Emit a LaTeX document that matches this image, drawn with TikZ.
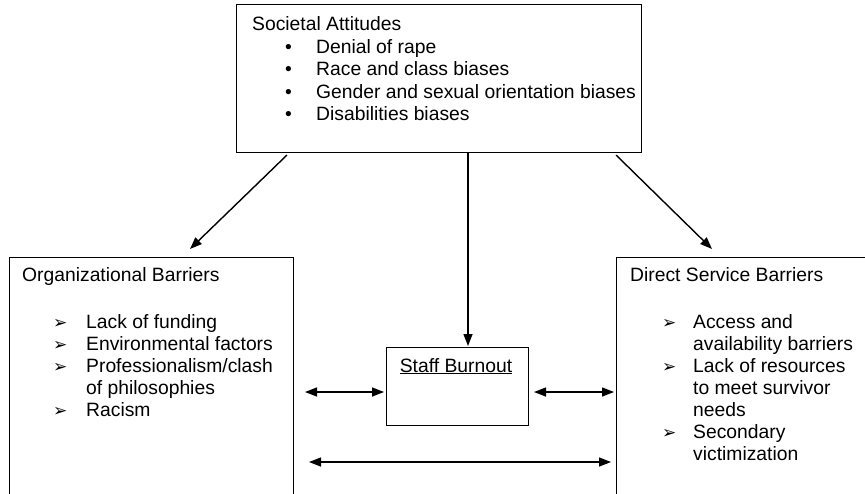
\documentclass[tikz,border=0pt]{standalone}
\usepackage{fontspec}
\setmainfont{Liberation Sans}
\newfontfamily\dejavu{DejaVu Sans}
\usetikzlibrary{arrows.meta}
\newcommand{\arrbul}{{\dejavu\fontsize{17}{17}\selectfont ➢}}
\begin{document}
\begin{tikzpicture}[x=1pt,y=-1pt,
  box/.style={draw, line width=1.4pt, rectangle, anchor=north west, inner sep=0},
  txt/.style={anchor=base west, inner sep=0, font=\fontsize{19.3}{22}\selectfont},
  conn/.style={line width=1.4pt, -{Triangle[length=12pt,width=9pt]}},
  dconn/.style={line width=1.4pt, {Triangle[length=12pt,width=9pt]}-{Triangle[length=12pt,width=9pt]}}]
\clip (0,0) rectangle (865,493);
\fill[white] (0,0) rectangle (865,493);
% boxes
\node[box, minimum width=405pt, minimum height=148pt] (soc) at (236,4) {};
\node[box, minimum width=284pt, minimum height=270pt] (org) at (9,257) {};
\node[box, minimum width=270pt, minimum height=270pt] (dsb) at (616,257) {};
\node[box, minimum width=142pt, minimum height=78pt] (staff) at (386,347) {};
% societal attitudes text
\node[txt] (s0) at (252,30.5) {Societal Attitudes};
\node[txt] (s1) at (285,53) {\makebox[31pt][l]{•}Denial of rape};
\node[txt] (s2) at (285,75.5) {\makebox[31pt][l]{•}Race and class biases};
\node[txt] (s3) at (285,98) {\makebox[31pt][l]{•}Gender and sexual orientation biases};
\node[txt] (s4) at (285,120.5) {\makebox[31pt][l]{•}Disabilities biases};
% organizational barriers text
\node[txt] (o0) at (22,281.5) {Organizational Barriers};
\node[txt] (o1) at (53,328.5) {\makebox[33pt][l]{\arrbul}Lack of funding};
\node[txt] (o2) at (53,350.5) {\makebox[33pt][l]{\arrbul}Environmental factors};
\node[txt] (o3) at (53,372.5) {\makebox[33pt][l]{\arrbul}Professionalism/clash};
\node[txt] (o4) at (86,394.5) {of philosophies};
\node[txt] (o5) at (53,416.5) {\makebox[33pt][l]{\arrbul}Racism};
% direct service barriers text
\node[txt] (d0) at (630,281.5) {Direct Service Barriers};
\node[txt] (d1) at (662,328.5) {\makebox[31pt][l]{\arrbul}Access and};
\node[txt] (d2) at (693,350.5) {availability barriers};
\node[txt] (d3) at (662,372.5) {\makebox[31pt][l]{\arrbul}Lack of resources};
\node[txt] (d4) at (693,394.5) {to meet survivor};
\node[txt] (d5) at (693,416.5) {needs};
\node[txt] (d6) at (662,438.5) {\makebox[31pt][l]{\arrbul}Secondary};
\node[txt] (d7) at (693,460.5) {victimization};
% staff burnout
\node[txt, anchor=base] (st) at (456,372) {\underline{Staff Burnout}};
% connector end points
\coordinate (a1s) at (287,155);
\coordinate (a1e) at (190,249);
\coordinate (a2s) at (468,153);
\coordinate (a2e) at (468,346);
\coordinate (a3s) at (616,155);
\coordinate (a3e) at (712,249);
\coordinate (b1s) at (305,392);
\coordinate (b1e) at (384,392);
\coordinate (b2s) at (534,392);
\coordinate (b2e) at (614,392);
\coordinate (b3s) at (309,462);
\coordinate (b3e) at (611,462);
\draw[conn] (a1s) -- (a1e);
\draw[conn] (a2s) -- (a2e);
\draw[conn] (a3s) -- (a3e);
\draw[dconn] (b1s) -- (b1e);
\draw[dconn] (b2s) -- (b2e);
\draw[dconn] (b3s) -- (b3e);
\end{tikzpicture}
\end{document}
